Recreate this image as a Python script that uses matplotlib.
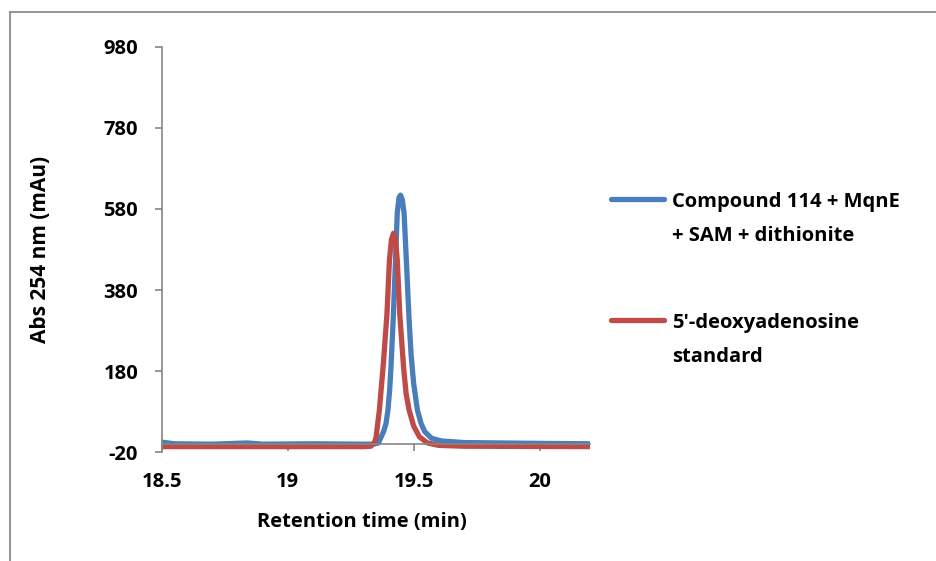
import matplotlib
matplotlib.use("Agg")
import matplotlib.pyplot as plt
from matplotlib.lines import Line2D

plt.rcParams['font.family'] = ['Open Sans', 'DejaVu Sans']
plt.rcParams['font.weight'] = 'bold'
plt.rcParams['axes.unicode_minus'] = False

# Chromatogram traces (retention time in min, absorbance in mAu)
time_compound = [18.50, 18.55, 18.70, 18.84, 18.90, 19.10, 19.30, 19.340, 19.360,
                 19.371, 19.380, 19.390, 19.398, 19.405, 19.410, 19.419, 19.428, 19.435,
                 19.442, 19.448, 19.455, 19.462, 19.471, 19.482, 19.490, 19.500, 19.515,
                 19.530, 19.544, 19.571, 19.610, 19.700, 19.850, 20.000, 20.200]
abs_compound = [5, 1, 0, 3, 0, 1, 0, 0, 3,
                18, 30, 50, 84, 135, 190, 310, 454, 570,
                608, 614, 603, 570, 454, 306, 220, 150, 84,
                50, 31, 14.5, 8, 4, 3, 2, 1]

time_standard = [18.50, 19.00, 19.300, 19.330, 19.345, 19.351, 19.364, 19.380,
                 19.394, 19.404, 19.412, 19.420, 19.428, 19.435, 19.445, 19.460,
                 19.470, 19.482, 19.500, 19.523, 19.555, 19.600, 19.700, 20.200]
abs_standard = [-6, -6, -6, -5, 5, 18, 84, 200,
                320, 454, 505, 520, 505, 454, 320, 190,
                125, 84, 45, 18, 3, -3, -5, -6]

series_labels = ["Compound 114 + MqnE\n+ SAM + dithionite",
                 "5'-deoxyadenosine\nstandard"]
series_colors = ["#4A7EBB", "#BE4B48"]

y_ticks = [-20, 180, 380, 580, 780, 980]
x_ticks = [18.5, 19, 19.5, 20]
x_tick_labels = ["18.5", "19", "19.5", "20"]

W, H = 937, 561
fig = plt.figure(figsize=(W / 100, H / 100), dpi=100)
ax = fig.add_axes([161.7 / W, 1 - 452.3 / H, (590 - 161.7) / W, (452.3 - 46.7) / H])

ax.plot(time_compound, abs_compound, color=series_colors[0], lw=3.8,
        solid_capstyle='butt', solid_joinstyle='round')
ax.plot(time_standard, abs_standard, color=series_colors[1], lw=3.8,
        solid_capstyle='butt', solid_joinstyle='round')

ax.set_xlim(18.5, 20.2)
ax.set_ylim(-20, 980)
ax.set_yticks(y_ticks)
ax.set_xticks(x_ticks)
ax.set_xticklabels(x_tick_labels)

axis_gray = "#868686"
for side in ("top", "right"):
    ax.spines[side].set_visible(False)
ax.spines['bottom'].set_position(('data', 0))
for side in ("left", "bottom"):
    ax.spines[side].set_color(axis_gray)
    ax.spines[side].set_linewidth(1.2)

fs = 14.5
ax.tick_params(axis='y', direction='out', length=5, width=1.2, color=axis_gray,
               pad=12, labelsize=fs)
ax.tick_params(axis='x', direction='out', length=5, width=1.2, color=axis_gray,
               pad=15, labelsize=fs)
for lab in ax.get_xticklabels() + ax.get_yticklabels():
    lab.set_fontweight('bold')

ax.set_xlabel("Retention time (min)", fontsize=fs, fontweight='bold')
ax.xaxis.set_label_coords((362 - 161.7) / (590 - 161.7), -(512 - 452.3) / (452.3 - 46.7))
ax.set_ylabel("Abs 254 nm (mAu)", fontsize=fs + 0.5, fontweight='bold')
ax.yaxis.set_label_coords(-(161.7 - 51) / (590 - 161.7), 0.5)

# Legend: line sample beside the first line of each label, lines 34 px apart
legend_rows = [199, 320]
line_step = 34
for label, color, y in zip(series_labels, series_colors, legend_rows):
    fig.add_artist(Line2D([611 / W, 664 / W], [1 - y / H, 1 - y / H], color=color,
                          lw=3.8, solid_capstyle='round'))
    for i, part in enumerate(label.split("\n")):
        base = y + 8 + i * line_step
        fig.text(672 / W, 1 - base / H, part, fontsize=fs, fontweight='bold',
                 va='baseline', ha='left')

# Chart frame
frame_gray = "#8C8C8C"
fig.add_artist(Line2D([10 / W, 10 / W], [0, 1 - 12 / H], color=frame_gray, lw=1.3))
fig.add_artist(Line2D([10 / W, 1], [1 - 12 / H, 1 - 12 / H], color=frame_gray, lw=1.3))

fig.savefig("out.png", dpi=100, facecolor="white")
